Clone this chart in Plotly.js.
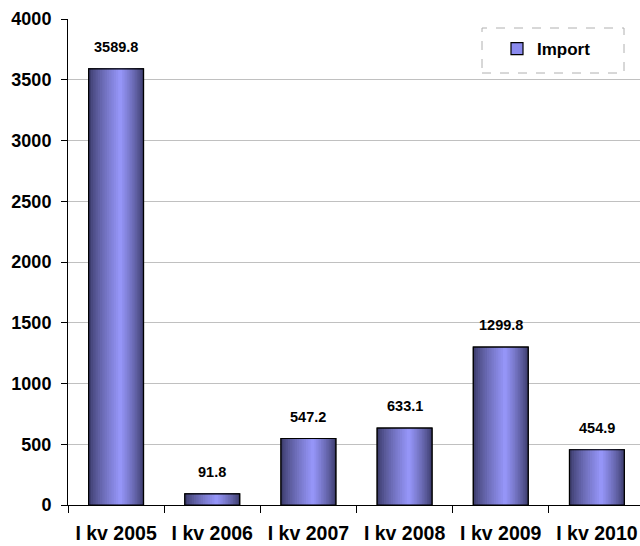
<!DOCTYPE html>
<html>
<head>
<meta charset="utf-8">
<script src="https://cdn.plot.ly/plotly-3.0.1.min.js"></script>
<style>html,body{margin:0;padding:0;background:#fff;}#chart{width:640px;height:546px;}</style>
</head>
<body>
<div id="chart"></div>
<script>
const categories = ["I kv 2005", "I kv 2006", "I kv 2007", "I kv 2008", "I kv 2009", "I kv 2010"];
const importValues = [3589.8, 91.8, 547.2, 633.1, 1299.8, 454.9];
const valueLabels = ["3589.8", "91.8", "547.2", "633.1", "1299.8", "454.9"];
const seriesName = "Import";

const FONT = "Liberation Sans, Arial, sans-serif";
const BAR_W = 0.57;
const K = 14;
const dark = [62, 62, 110], light = [154, 154, 255];
function mix(t) {
  const c = dark.map((d, i) => Math.round(d + (light[i] - d) * Math.pow(t, 0.8)));
  return `rgb(${c[0]},${c[1]},${c[2]})`;
}

const traces = [];
traces.push({
  type: "bar", x: categories, y: importValues, name: seriesName,
  width: BAR_W, offset: -BAR_W / 2,
  marker: {color: "#8a8aee", line: {color: "#000", width: 1.2}},
  showlegend: true, hoverinfo: "skip"
});
for (let k = 0; k < K; k++) {
  const t = k / K;
  const left = t * 0.58 * BAR_W;
  const right = BAR_W - t * 0.42 * BAR_W;
  traces.push({
    type: "bar", x: categories, y: importValues, name: seriesName,
    width: right - left, offset: -BAR_W / 2 + left,
    marker: {color: mix(t), line: {width: 0}},
    showlegend: false, hoverinfo: "skip"
  });
}
traces.push({
  type: "bar", x: categories, y: importValues, name: seriesName,
  width: BAR_W, offset: -BAR_W / 2,
  marker: {color: "rgba(0,0,0,0)", line: {color: "#000", width: 1.2}},
  showlegend: false, hoverinfo: "skip"
});

const annotations = categories.map((c, i) => ({
  x: c, y: importValues[i], text: valueLabels[i], showarrow: false,
  yanchor: "middle", yshift: 22,
  font: {family: FONT, size: 14.5, color: "#000", weight: "bold"}
}));

const layout = {
  width: 640, height: 546,
  margin: {l: 68, r: 0, t: 19, b: 41},
  paper_bgcolor: "#fff", plot_bgcolor: "#fff",
  barmode: "overlay",
  showlegend: true,
  legend: {
    x: (497 - 68) / 572, xanchor: "left",
    y: (505 - 49) / 486, yanchor: "middle",
    bgcolor: "rgba(0,0,0,0)", borderwidth: 0,
    itemwidth: 30,
    font: {family: FONT, size: 17, color: "#000", weight: "bold"}
  },
  xaxis: {
    type: "category", range: [-0.5, 5.448],
    showline: true, linecolor: "#000", linewidth: 1,
    ticks: "outside", tickson: "boundaries", ticklen: 7, tickcolor: "#000",
    ticklabelstandoff: 11,
    showgrid: false, zeroline: false,
    tickfont: {family: FONT, size: 19.5, color: "#000", weight: "bold"},
    fixedrange: true
  },
  yaxis: {
    range: [0, 4000], dtick: 500, tick0: 0,
    showline: true, linecolor: "#000", linewidth: 1,
    ticks: "outside", ticklen: 6, tickcolor: "#000",
    showgrid: true, gridcolor: "#c0c0c0", gridwidth: 1,
    zeroline: false,
    ticklabelstandoff: 6,
    tickfont: {family: FONT, size: 18, color: "#000", weight: "bold"},
    fixedrange: true
  },
  annotations: annotations,
  shapes: [{
    type: "rect", xref: "paper", yref: "paper",
    x0: (482 - 68) / 572, x1: (624 - 68) / 572,
    y0: (505 - 73) / 486, y1: (505 - 28) / 486,
    line: {color: "#b0b0b0", width: 1, dash: "dash"},
    fillcolor: "rgba(0,0,0,0)"
  }]
};

Plotly.newPlot("chart", traces, layout, {displayModeBar: false, staticPlot: true});
</script>
</body>
</html>
